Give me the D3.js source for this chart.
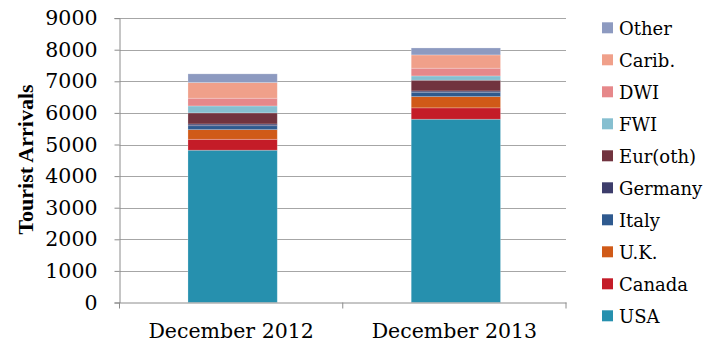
<!DOCTYPE html>
<html><head><meta charset="utf-8">
<script src="https://cdn.jsdelivr.net/npm/d3@7"></script>
<style>body{margin:0;background:#fff}svg{display:block}</style>
</head><body>
<svg id="c" width="711" height="345"></svg>
<script>
const categories = ["December 2012", "December 2013"];
const seriesNames = ["USA","Canada","U.K.","Italy","Germany","Eur(oth)","FWI","DWI","Carib.","Other"];
const usa     = [4820, 5800];
const canada  = [345, 360];
const uk      = [305, 355];
const italy   = [125, 140];
const germany = [55, 40];
const eurOth  = [350, 340];
const fwi     = [220, 135];
const dwi     = [245, 245];
const carib   = [495, 420];
const other   = [275, 220];
const yTicks  = [0,1000,2000,3000,4000,5000,6000,7000,8000,9000];
const colors  = ["#2690ae","#c41c28","#d05a18","#2f5a8f","#3d3d6b","#71333f","#86bfd0","#e6888a","#f0a08a","#8d9ac0"];

const seriesVals = [usa, canada, uk, italy, germany, eurOth, fwi, dwi, carib, other];
const rows = categories.map((c, i) => {
  const r = {cat: c};
  seriesNames.forEach((s, j) => r[s] = seriesVals[j][i]);
  return r;
});
const stack = d3.stack().keys(seriesNames)(rows);

const svg = d3.select("#c");
const L = 119.5, R = 566, T = 18.1, B = 302.5;
const x = d3.scaleBand().domain(categories).range([L, R]).padding(0);
const y = d3.scaleLinear().domain([0, 9000]).range([B, T]);
const color = d3.scaleOrdinal().domain(seriesNames).range(colors);
const serif = "'DejaVu Serif', serif";

// gridlines
svg.append("g").selectAll("line").data(yTicks.filter(d => d > 0)).join("line")
  .attr("x1", L).attr("x2", R)
  .attr("y1", d => Math.round(y(d)) + 0.5).attr("y2", d => Math.round(y(d)) + 0.5)
  .attr("stroke", "#a6a6a6").attr("stroke-width", 1);

// bars
const bw = x.bandwidth() * 0.4;
svg.append("g").selectAll("g").data(stack).join("g")
  .attr("fill", d => color(d.key))
  .selectAll("rect").data(d => d).join("rect")
  .attr("x", d => x(d.data.cat) + x.bandwidth() / 2 - bw / 2 + 1.5)
  .attr("width", bw)
  .attr("y", d => y(d[1]))
  .attr("height", d => y(d[0]) - y(d[1]))
  .attr("stroke", "#ffffff").attr("stroke-opacity", 0.3).attr("stroke-width", 0.75);

// y axis
const yAxis = svg.append("g").attr("transform", `translate(${L},0)`)
  .call(d3.axisLeft(y).tickValues(yTicks).tickSize(5).tickPadding(17).tickFormat(d3.format("d")));
yAxis.select(".domain").attr("stroke", "#8c8c8c");
yAxis.selectAll(".tick line").attr("stroke", "#8c8c8c");
yAxis.selectAll(".tick text").attr("font-family", serif).attr("font-size", "20.5px").attr("fill", "#000");

// x axis
const xAxis = svg.append("g").attr("transform", `translate(0,${B})`)
  .call(d3.axisBottom(x).tickSize(0).tickPadding(0));
xAxis.select(".domain").attr("stroke", "#8c8c8c");
xAxis.selectAll(".tick line").remove();
xAxis.selectAll(".tick text").attr("font-family", serif).attr("font-size", "20.5px").attr("fill", "#000")
  .attr("dy", null).attr("y", 35.5);
const bounds = [L, L + x.bandwidth(), R];
xAxis.append("g").selectAll("line").data(bounds).join("line")
  .attr("x1", d => d).attr("x2", d => d).attr("y1", 0).attr("y2", 6)
  .attr("stroke", "#8c8c8c");

// y title
svg.append("text")
  .attr("transform", "translate(32.5,159.5) rotate(-90)")
  .attr("text-anchor", "middle")
  .attr("font-family", "'Liberation Serif', serif").attr("font-weight", "bold")
  .attr("font-size", "22px").text("Tourist Arrivals");

// legend
const legendOrder = seriesNames.slice().reverse();
const lg = svg.append("g").selectAll("g").data(legendOrder).join("g")
  .attr("transform", (d, i) => `translate(602,${28.3 + i * 32})`);
lg.append("rect").attr("x", 0).attr("y", -6).attr("width", 11).attr("height", 11)
  .attr("fill", d => color(d));
lg.append("text").attr("x", 17).attr("y", 0).attr("dy", "0.35em")
  .attr("font-family", serif).attr("font-size", "18px").attr("fill", "#000")
  .text(d => d);
</script>
</body></html>
